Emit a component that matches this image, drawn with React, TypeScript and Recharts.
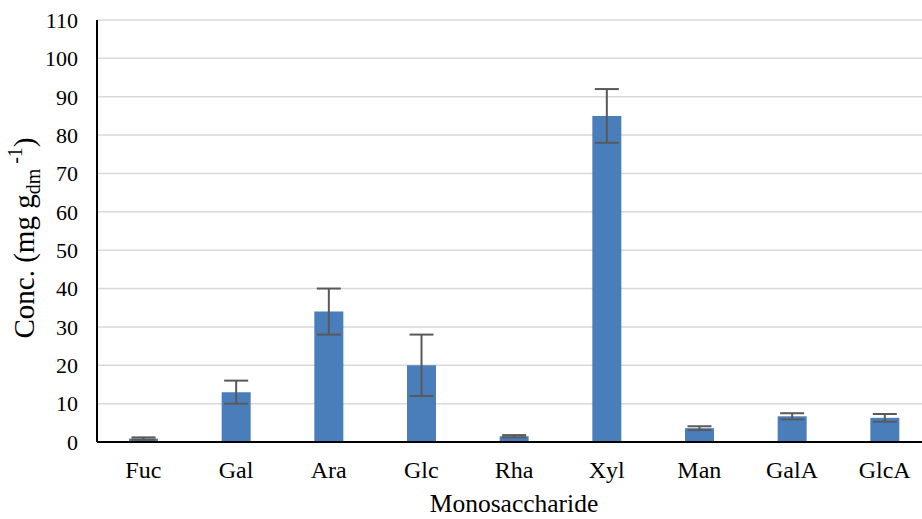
import React from "react";
import { BarChart, Bar, XAxis, YAxis, CartesianGrid, ErrorBar } from "recharts";

const categories = ["Fuc", "Gal", "Ara", "Glc", "Rha", "Xyl", "Man", "GalA", "GlcA"];
const concValues = [0.9, 13, 34, 20, 1.5, 85, 3.6, 6.7, 6.3];
const errValues = [0.3, 3, 6, 8, 0.3, 7, 0.5, 0.8, 1];
const yTicks = [0, 10, 20, 30, 40, 50, 60, 70, 80, 90, 100, 110];

const data = categories.map((c, i) => ({ name: c, value: concValues[i], err: errValues[i] }));

const FONT = "'Liberation Serif', 'Times New Roman', serif";

const YLabel = () => (
  <text
    transform="translate(34,238) rotate(-90)"
    textAnchor="middle"
    fontFamily={FONT}
    fontSize={29}
    fill="#000"
  >
    Conc. (mg g
    <tspan fontSize={20} dy={6}>dm</tspan>
    <tspan fontSize={20} dy={-18}> -1</tspan>
    <tspan dy={12}>)</tspan>
  </text>
);

export default function App() {
  return (
    <div style={{ position: "absolute", left: 0, top: 0, width: 922, height: 519, overflow: "hidden", background: "#fff" }}>
      <BarChart
        width={940}
        height={519}
        data={data}
        margin={{ top: 20, right: 9, left: 0, bottom: 0 }}
      >
        <CartesianGrid vertical={false} stroke="#d9d9d9" strokeWidth={1.5} />
        <XAxis
          dataKey="name"
          axisLine={{ stroke: "#000", strokeWidth: 2 }}
          tickLine={false}
          tickSize={0}
          tickMargin={19}
          height={77}
          tick={{ fontFamily: FONT, fontSize: 24, fill: "#000" }}
          label={{ value: "Monosaccharide", position: "insideBottom", offset: 7, style: { fontFamily: FONT, fontSize: 25.5, fill: "#000" } }}
        />
        <YAxis
          domain={[0, 110]}
          ticks={yTicks}
          interval={0}
          width={97}
          axisLine={{ stroke: "#000", strokeWidth: 2 }}
          tickLine={false}
          tickSize={0}
          tickMargin={19}
          tick={{ fontFamily: FONT, fontSize: 22, fill: "#000" }}
          label={<YLabel />}
        />
        <Bar dataKey="value" fill="#4a7ebb" barSize={29} isAnimationActive={false}>
          <ErrorBar dataKey="err" width={12} stroke="#595959" strokeWidth={2} />
        </Bar>
      </BarChart>
    </div>
  );
}
